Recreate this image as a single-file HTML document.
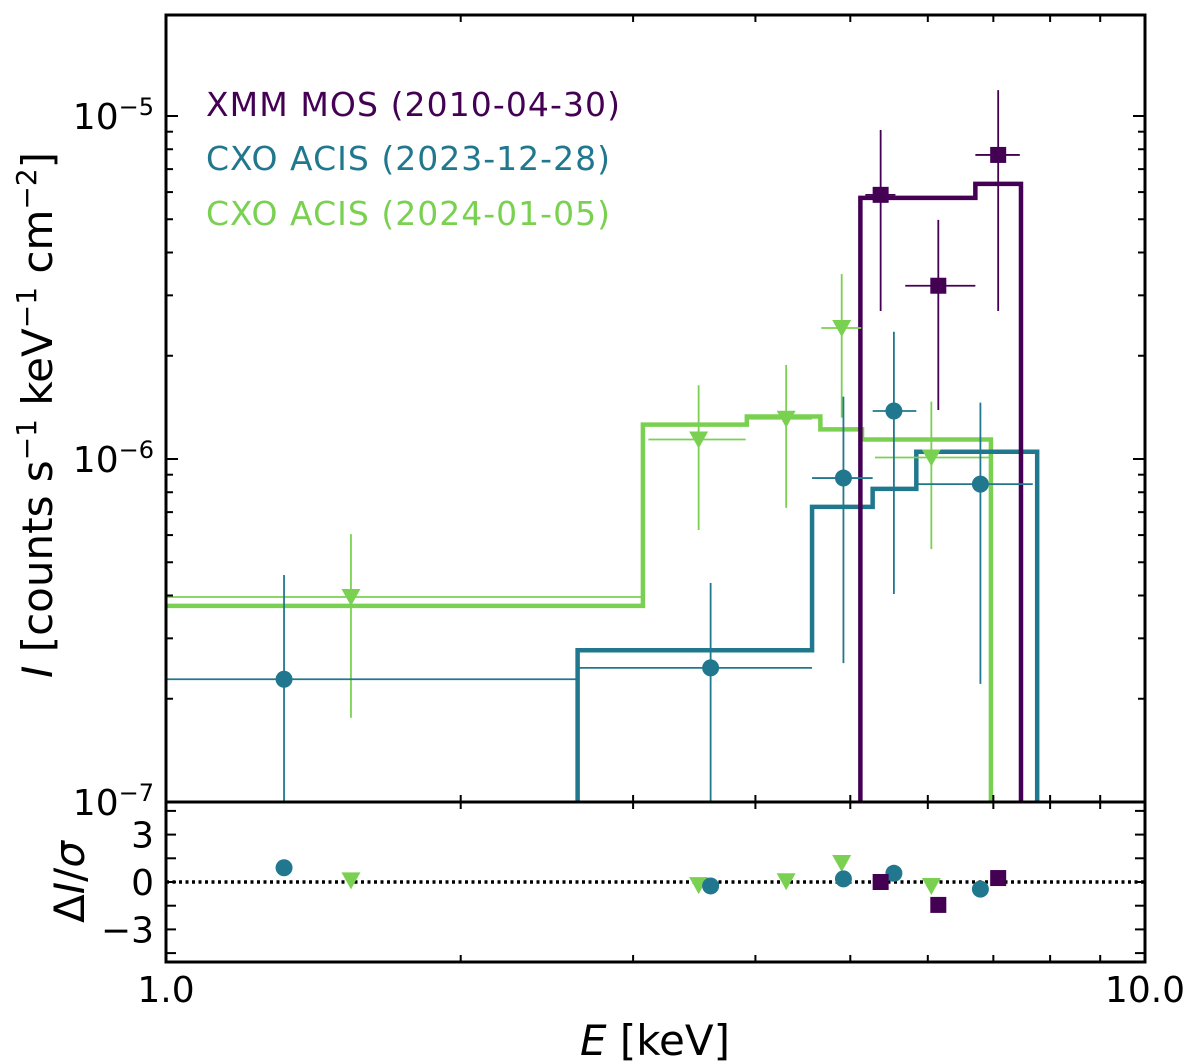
<!DOCTYPE html>
<html><head><meta charset="utf-8"><style>
html,body{margin:0;padding:0;background:#fff;}
svg{display:block;font-family:"DejaVu Sans","Liberation Sans",sans-serif;}
</style></head><body>
<svg id="chart" width="1200" height="1062" viewBox="0 0 1200 1062" xmlns="http://www.w3.org/2000/svg">
<g id="main"></g>
<g id="resid"></g>
<g id="axes"></g>
<text x="206" y="116" font-size="33" fill="#440154" textLength="414">XMM MOS (2010-04-30)</text>
<text x="206" y="170" font-size="33" fill="#21788e" textLength="404">CXO ACIS (2023-12-28)</text>
<text x="206" y="225" font-size="33" fill="#7ad151" textLength="404">CXO ACIS (2024-01-05)</text>
<text transform="translate(52,415) rotate(-90)" text-anchor="middle" font-size="42"><tspan font-style="italic">I</tspan> [counts s<tspan baseline-shift="super" font-size="28">−1</tspan> keV<tspan baseline-shift="super" font-size="28">−1</tspan> cm<tspan baseline-shift="super" font-size="28">−2</tspan>]</text>
<text transform="translate(84,882) rotate(-90)" text-anchor="middle" font-size="42">Δ<tspan font-style="italic">I</tspan>/<tspan font-style="italic">σ</tspan></text>
<text x="655" y="1055" text-anchor="middle" font-size="42"><tspan font-style="italic">E</tspan> [keV]</text>
</svg>
<script>
// ---- data ----
const xmmE = [5.37, 6.15, 7.08];
const xmmElo = [5.18, 5.69, 6.71];
const xmmEhi = [5.56, 6.71, 7.45];
const xmmI = [5.89e-6, 3.2e-6, 7.7e-6];
const xmmIlo = [2.7e-6, 1.39e-6, 2.7e-6];
const xmmIhi = [9.1e-6, 4.98e-6, 1.19e-5];
const xmmModelEdges = [5.12, 6.71, 7.47];
const xmmModel = [5.77e-6, 6.34e-6];
const xmmResid = [0.0, -1.45, 0.25];

const cxoAE = [1.32, 3.60, 4.92, 5.54, 6.79];
const cxoAElo = [0.6, 2.62, 4.57, 5.27, 5.84];
const cxoAEhi = [2.62, 4.57, 5.27, 5.84, 7.68];
const cxoAI = [2.28e-7, 2.46e-7, 8.8e-7, 1.38e-6, 8.45e-7];
const cxoAIlo = [5e-8, 5e-8, 2.54e-7, 4.04e-7, 2.21e-7];
const cxoAIhi = [4.59e-7, 4.35e-7, 1.52e-6, 2.35e-6, 1.46e-6];
const cxoAModelEdges = [2.633, 4.57, 5.27, 5.84, 7.76];
const cxoAModel = [2.77e-7, 7.25e-7, 8.18e-7, 1.05e-6];
const cxoAResid = [0.9, -0.25, 0.2, 0.55, -0.45];

const cxoBE = [1.545, 3.50, 4.30, 4.90, 6.05];
const cxoBElo = [0.6, 3.11, 3.91, 4.67, 5.30];
const cxoBEhi = [3.07, 3.91, 4.57, 5.13, 6.94];
const cxoBI = [3.96e-7, 1.14e-6, 1.31e-6, 2.41e-6, 1.01e-6];
const cxoBIlo = [1.76e-7, 6.21e-7, 7.2e-7, 1.32e-6, 5.46e-7];
const cxoBIhi = [6.04e-7, 1.64e-6, 1.88e-6, 3.46e-6, 1.47e-6];
const cxoBModelEdges = [0.6, 3.07, 3.92, 4.66, 5.14, 6.96];
const cxoBModel = [3.73e-7, 1.26e-6, 1.33e-6, 1.22e-6, 1.14e-6];
const cxoBResid = [0.1, -0.2, 0.05, 1.2, -0.25];

const residTicks = [-4.5, -3, -1.5, 0, 1.5, 3, 4.5];
const residLabels = [-3, 0, 3];

// ---- geometry ----
const L = 166, R = 1145, T = 15, MB = 802, RB = 962;
const NS = 'http://www.w3.org/2000/svg';
const xs = e => L + Math.log10(e) * (R - L);
const yMain = v => MB - (Math.log10(v) + 7) * 343;
const yRes = r => 882 - r * 15.8;
const mainG = document.getElementById('main');
const resG = document.getElementById('resid');
const axG = document.getElementById('axes');
function mk(tag, attrs, parent) {
  const el = document.createElementNS(NS, tag);
  for (const k in attrs) el.setAttribute(k, attrs[k]);
  parent.appendChild(el);
  return el;
}
const defs = mk('defs', {}, document.getElementById('chart'));
const cp = mk('clipPath', {id: 'cm'}, defs);
mk('rect', {x: L, y: T, width: R - L, height: MB - T}, cp);
const cp2 = mk('clipPath', {id: 'cr'}, defs);
mk('rect', {x: L, y: MB, width: R - L, height: RB - MB}, cp2);
mainG.setAttribute('clip-path', 'url(#cm)');
resG.setAttribute('clip-path', 'url(#cr)');

function marker(kind, cx, cy, color, parent, name) {
  let el;
  if (kind === 'sq') el = mk('rect', {x: cx - 8, y: cy - 8, width: 16, height: 16, fill: color}, parent);
  else if (kind === 'ci') el = mk('circle', {cx: cx, cy: cy, r: 8.5, fill: color}, parent);
  else el = mk('polygon', {points: `${cx-9.5},${cy-8} ${cx+9.5},${cy-8} ${cx},${cy+9}`, fill: color}, parent);
  
  
}
function model(edges, vals, color, name) {
  let d = `M${xs(edges[0])},${MB + 10}`;
  for (let i = 0; i < vals.length; i++) {
    d += ` L${xs(edges[i])},${yMain(vals[i])} L${xs(edges[i + 1])},${yMain(vals[i])}`;
  }
  d += ` L${xs(edges[edges.length - 1])},${MB + 10}`;
  const p = mk('path', {d: d, fill: 'none', stroke: color, 'stroke-width': 4.5, 'stroke-linejoin': 'miter'}, mainG);
  
  
}
function series(E, Elo, Ehi, I, Ilo, Ihi, res, color, kind, name) {
  for (let i = 0; i < E.length; i++) {
    const x = xs(E[i]), y = yMain(I[i]);
    const g = mk('g', {}, mainG);
    
    
    mk('line', {x1: xs(Elo[i]), x2: xs(Ehi[i]), y1: y, y2: y, stroke: color, 'stroke-width': 1.8}, g);
    mk('line', {x1: x, x2: x, y1: yMain(Ilo[i]), y2: yMain(Ihi[i]), stroke: color, 'stroke-width': 1.8}, g);
    marker(kind, x, y, color, g, name + '-marker-' + (i + 1));
    marker(kind, x, yRes(res[i]), color, resG, name + '-residual-' + (i + 1));
  }
}
model(cxoBModelEdges, cxoBModel, '#7ad151', 'cxo-2024-model');
model(cxoAModelEdges, cxoAModel, '#21788e', 'cxo-2023-model');
model(xmmModelEdges, xmmModel, '#440154', 'xmm-model');
const zl = mk('line', {x1: L, x2: R, y1: yRes(0), y2: yRes(0), stroke: '#000', 'stroke-width': 3.5, 'stroke-dasharray': '3,3.5'}, resG);


series(cxoBE, cxoBElo, cxoBEhi, cxoBI, cxoBIlo, cxoBIhi, cxoBResid, '#7ad151', 'tr', 'cxo-2024');
series(cxoAE, cxoAElo, cxoAEhi, cxoAI, cxoAIlo, cxoAIhi, cxoAResid, '#21788e', 'ci', 'cxo-2023');
series(xmmE, xmmElo, xmmEhi, xmmI, xmmIlo, xmmIhi, xmmResid, '#440154', 'sq', 'xmm');

// ---- axes ----
const fr = mk('rect', {x: L, y: T, width: R - L, height: RB - T, fill: 'none', stroke: '#000', 'stroke-width': 3}, axG);


const sep = mk('line', {x1: L, x2: R, y1: MB, y2: MB, stroke: '#000', 'stroke-width': 3}, axG);


function tick(x1, y1, x2, y2, w) { mk('line', {x1, y1, x2, y2, stroke: '#000', 'stroke-width': w}, axG); }
for (let d = 1; d <= 10; d++) {
  const x = xs(d), len = (d === 1 || d === 10) ? 12 : 7;
  [[T, 1], [MB, -1], [MB, 1], [RB, -1]].forEach(([y, s]) => tick(x, y, x, y + s * len, 2));
}
for (let exp = -7; exp <= -5; exp++) {
  for (let m = 1; m <= 9; m++) {
    const v = m * Math.pow(10, exp), y = yMain(v);
    if (y < T || y > MB) continue;
    const len = m === 1 ? 12 : 7;
    tick(L, y, L + len, y, 2); tick(R, y, R - len, y, 2);
  }
}
[-7, -6, -5].forEach(exp => {
  const t = mk('text', {x: L - 12, y: yMain(Math.pow(10, exp)) + 13, 'text-anchor': 'end', 'font-size': 36}, axG);
  
  
  t.innerHTML = `10<tspan baseline-shift="super" font-size="24">−${-exp}</tspan>`;
});
residTicks.forEach(r => {
  const y = yRes(r);
  tick(L, y, L + 10, y, 2); tick(R, y, R - 10, y, 2);
});
residLabels.forEach(r => {
  const t = mk('text', {x: L - 12, y: yRes(r) + 13, 'text-anchor': 'end', 'font-size': 36}, axG);
  
  
  t.textContent = r < 0 ? '−' + (-r) : String(r);
});
[[1, '1.0'], [10, '10.0']].forEach(([e, s]) => {
  const t = mk('text', {x: xs(e), y: 1002, 'text-anchor': 'middle', 'font-size': 36}, axG);
  
  
  t.textContent = s;
});
</script>
</body></html>
